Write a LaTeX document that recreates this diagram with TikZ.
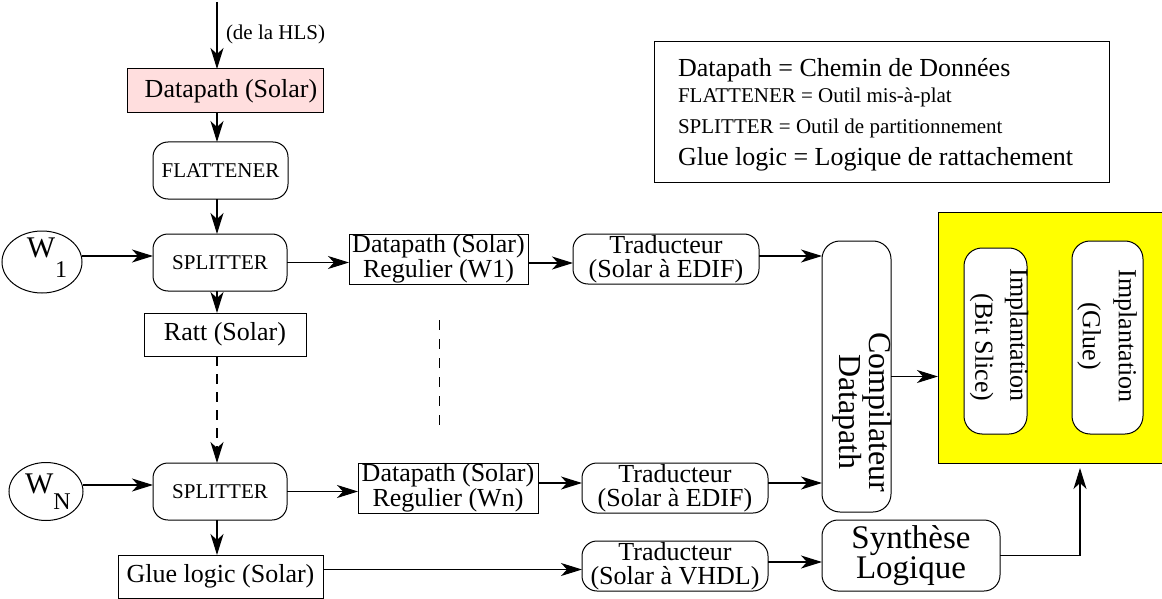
\documentclass[tikz,border=0pt]{standalone}
\usepackage{fontspec}
\setmainfont{Liberation Serif}
\usetikzlibrary{arrows.meta,shapes.geometric}
\definecolor{pinkfill}{RGB}{255,222,222}
\definecolor{chipfill}{RGB}{255,255,0}

\begin{document}
\begin{tikzpicture}[x=1pt,y=-1pt,
  every node/.style={inner sep=0pt, outer sep=0pt},
  arr/.style={-{Stealth[length=21pt,width=13pt,inset=6pt]}, line width=1.1pt},
  dashedarr/.style={arr, dash pattern=on 10pt off 8pt},
  bigtext/.style={font=\fontsize{26}{23.5}\selectfont},
  smalltext/.style={font=\fontsize{21}{24}\selectfont},
  box/.style={draw, line width=1pt, align=center, bigtext},
  rbox/.style={box, rounded corners=15pt},
  oval/.style={draw, ellipse, line width=1pt},
  tallbox/.style={draw, line width=1pt, fill=white, rounded corners=18pt},
  vtext/.style={rotate=-90, font=\fontsize{26}{35}\selectfont}
]
\useasboundingbox (0,0) rectangle (1162,599);

% left column
\node[box, fill=pinkfill, minimum width=196pt, minimum height=44pt] (pink) at (225,91) {\hspace*{12pt}Datapath (Solar)};
\node[rbox, smalltext, minimum width=135pt, minimum height=57pt] (flat) at (220.5,170.5) {FLATTENER};
\node[rbox, smalltext, minimum width=134pt, minimum height=57pt] (split1) at (220,262.5) {SPLITTER};
\node[box, minimum width=162pt, minimum height=43pt] (ratt) at (225,334.5) {Ratt (Solar)};
\node[rbox, smalltext, minimum width=134pt, minimum height=57pt] (splitN) at (220,491.5) {SPLITTER};
\node[box, minimum width=205pt, minimum height=43pt] (glue) at (220.5,576.5) {Glue logic (Solar)};

% inputs
\node[oval, minimum width=80pt, minimum height=62pt] (w1) at (42,262)
  {\raisebox{5pt}[0pt][0pt]{\hspace*{10pt}\fontsize{30}{30}\selectfont W\raisebox{-20pt}{\fontsize{24}{24}\selectfont 1}}};
\node[oval, minimum width=74pt, minimum height=58pt] (wN) at (46,491.5)
  {\raisebox{-2pt}[0pt][0pt]{\hspace*{4pt}\fontsize{30}{30}\selectfont W\raisebox{-16pt}{\fontsize{24}{24}\selectfont N}}};

% regular datapaths and translators
\node[box, minimum width=179pt, minimum height=50pt] (dp1) at (438.5,259) {Datapath (Solar)\\Regulier (W1)};
\node[box, minimum width=180pt, minimum height=50pt] (dpN) at (448,488) {Datapath (Solar)\\Regulier (Wn)};
\node[rbox, minimum width=186pt, minimum height=50pt] (trad1) at (666,259) {Traducteur\\(Solar à EDIF)};
\node[rbox, minimum width=186pt, minimum height=50pt] (tradN) at (675,488) {Traducteur\\(Solar à EDIF)};
\node[rbox, minimum width=186pt, minimum height=50pt] (tradV) at (675,566) {Traducteur\\(Solar à VHDL)};

% compiler and synthesis
\node[tallbox, minimum width=69pt, minimum height=271pt] (comp) at (856.5,376.5) {};
\node[rotate=-90, align=center, font=\fontsize{32}{28}\selectfont] (compt) at (862.5,412) {Compilateur\\Datapath};
\node[rbox, rounded corners=16pt, font=\fontsize{33}{30}\selectfont, minimum width=178pt, minimum height=71pt] (synth) at (911,555.5) {Synthèse\\Logique};

% placement block
\node[draw, fill=chipfill, line width=1pt, minimum width=226pt, minimum height=251pt] (chip) at (1051,337.5) {};
\node[tallbox, minimum width=63pt, minimum height=186pt] (bit) at (995.5,341) {};
\node[vtext, align=right] (bitt) at (999,335) {Implantation\\(Bit Slice)};
\node[tallbox, minimum width=71pt, minimum height=193pt] (gbox) at (1107.5,337.5) {};
\node[vtext, align=center, font=\fontsize{26}{36}\selectfont] (gluet) at (1107,336) {Implantation\\(Glue)};

% legend
\node[draw, line width=1pt, minimum width=455pt, minimum height=140pt] (legend) at (881.5,112) {};
\node[anchor=base west, bigtext] (l1) at (678,77) {Datapath = Chemin de Données};
\node[anchor=base west, smalltext] (l2) at (678,102.5) {FLATTENER = Outil mis-à-plat};
\node[anchor=base west, smalltext] (l3) at (678,134) {SPLITTER = Outil de partitionnement};
\node[anchor=base west, bigtext] (l4) at (678,165) {Glue logic = Logique de rattachement};

% vertical flow
\coordinate (top) at (217,2);
\node[anchor=west, smalltext] (hls) at (226,34) {(de la HLS)};
\draw[arr] (top) -- (top |- pink.north);
\draw[arr] (top |- pink.south) -- (top |- flat.north);
\draw[arr] (top |- flat.south) -- (top |- split1.north);
\draw[arr] (top |- split1.south) -- (top |- ratt.north);
\draw[dashedarr] (top |- ratt.south) -- (top |- splitN.north);
\draw[arr] (top |- splitN.south) -- (top |- glue.north);

% horizontal flow
\draw[arr] ([yshift=6pt]w1.east) -- ([yshift=6pt]w1.east -| split1.west);
\draw[arr] (split1.east) -- (split1.east -| dp1.west);
\draw[arr] ([yshift=-4pt]dp1.east) -- ([yshift=-4pt]dp1.east -| trad1.west);
\draw[arr] ([yshift=3pt]trad1.east) -- ([yshift=3pt]trad1.east -| comp.west);
\draw[arr] (comp.east) -- (comp.east -| chip.west);
\draw[arr] ([yshift=6.5pt]wN.east) -- ([yshift=6.5pt]wN.east -| splitN.west);
\draw[arr] (splitN.east) -- (splitN.east -| dpN.west);
\draw[arr] ([yshift=5pt]dpN.east) -- ([yshift=5pt]dpN.east -| tradN.west);
\draw[arr] ([yshift=5pt]tradN.east) -- ([yshift=5pt]tradN.east -| comp.west);
\draw[arr] ([yshift=7pt]glue.east) -- ([yshift=7pt]glue.east -| tradV.west);
\draw[arr] ([yshift=4pt]tradV.east) -- ([yshift=4pt]tradV.east -| synth.west);
\draw[arr, shorten >=5pt] (synth.east) -| ([xshift=29pt]chip.south);

% elided rows
\coordinate (da) at (439,320);
\coordinate (db) at (439,433);
\draw[line width=1pt, dash pattern=on 10pt off 9pt] (da) -- (db);
\end{tikzpicture}
\end{document}
